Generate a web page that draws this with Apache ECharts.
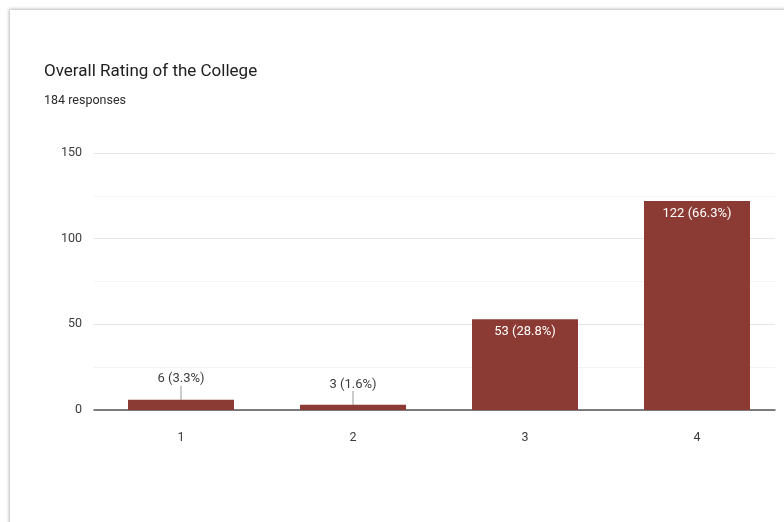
<!DOCTYPE html>
<html>
<head>
<meta charset="utf-8">
<script src="https://cdn.jsdelivr.net/npm/echarts@6/dist/echarts.min.js"></script>
<style>
html,body{margin:0;padding:0;background:#fff;width:784px;height:522px;overflow:hidden;}
#card{position:absolute;left:10px;top:10px;width:800px;height:520px;background:#fff;box-shadow:0 0 3px 1px rgba(0,0,0,0.28);}
#chart{position:absolute;left:0;top:0;width:784px;height:522px;}
</style>
</head>
<body>
<div id="card"></div>
<div id="chart"></div>
<script>
var titleText = 'Overall Rating of the College';
var subtitleText = '184 responses';
var categories = ['1', '2', '3', '4'];
var counts = [6, 3, 53, 122];
var percents = [3.3, 1.6, 28.8, 66.3];
var outsideLabel = [true, true, false, false];

var barColor = '#8b3b33';
var fontFam = 'Roboto, "Noto Sans", sans-serif';

var barData = counts.map(function (v, i) {
  var item = { value: v };
  if (outsideLabel[i]) {
    item.label = { position: 'top', color: '#3c3c3c', distance: 5 };
    item.labelLine = { show: true, lineStyle: { color: '#999', width: 1 } };
  }
  return item;
});

var chart = echarts.init(document.getElementById('chart'), null, { renderer: 'canvas' });
chart.setOption({
  animation: false,
  backgroundColor: 'transparent',
  title: [
    { text: titleText, left: 44, top: 63, padding: 0, textStyle: { fontFamily: fontFam, fontSize: 17, fontWeight: 'normal', color: '#202020' } },
    { text: subtitleText, left: 44, top: 94, padding: 0, textStyle: { fontFamily: fontFam, fontSize: 12.5, fontWeight: 'normal', color: '#2a2a2a' } }
  ],
  grid: [
    { left: 94, right: 9, top: 153, bottom: 112 },
    { left: 95, right: 1, top: 153, bottom: 112 }
  ],
  xAxis: [
    { gridIndex: 0, type: 'category', data: categories,
      axisLine: { show: true, lineStyle: { color: '#555', width: 1.5 } },
      axisTick: { show: false }, axisLabel: { show: false }, splitLine: { show: false } },
    { gridIndex: 1, type: 'category', data: categories,
      axisLine: { show: false }, axisTick: { show: false },
      axisLabel: { color: '#3c3c3c', fontSize: 12.5, fontFamily: fontFam, margin: 21 } }
  ],
  yAxis: [
    { gridIndex: 0, type: 'value', min: 0, max: 150, interval: 50,
      axisLine: { show: false }, axisTick: { show: false },
      axisLabel: { color: '#3c3c3c', fontSize: 12.5, fontFamily: fontFam, margin: 12 },
      splitLine: { lineStyle: { color: '#e6e6e6', width: 1 } },
      minorTick: { show: false, splitNumber: 2 },
      minorSplitLine: { show: true, lineStyle: { color: '#f3f3f3', width: 1 } } },
    { gridIndex: 1, type: 'value', min: 0, max: 150, show: false }
  ],
  series: [{
    type: 'bar',
    xAxisIndex: 1, yAxisIndex: 1,
    data: barData,
    barWidth: 106,
    itemStyle: { color: barColor },
    label: {
      show: true, position: 'insideTop', distance: 6, color: '#fff',
      fontSize: 13, fontFamily: fontFam,
      formatter: function (p) { return counts[p.dataIndex] + ' (' + percents[p.dataIndex].toFixed(1) + '%)'; }
    },
    labelLayout: function (p) {
      return outsideLabel[p.dataIndex] ? { dy: -9 } : {};
    }
  }]
});
</script>
</body>
</html>
